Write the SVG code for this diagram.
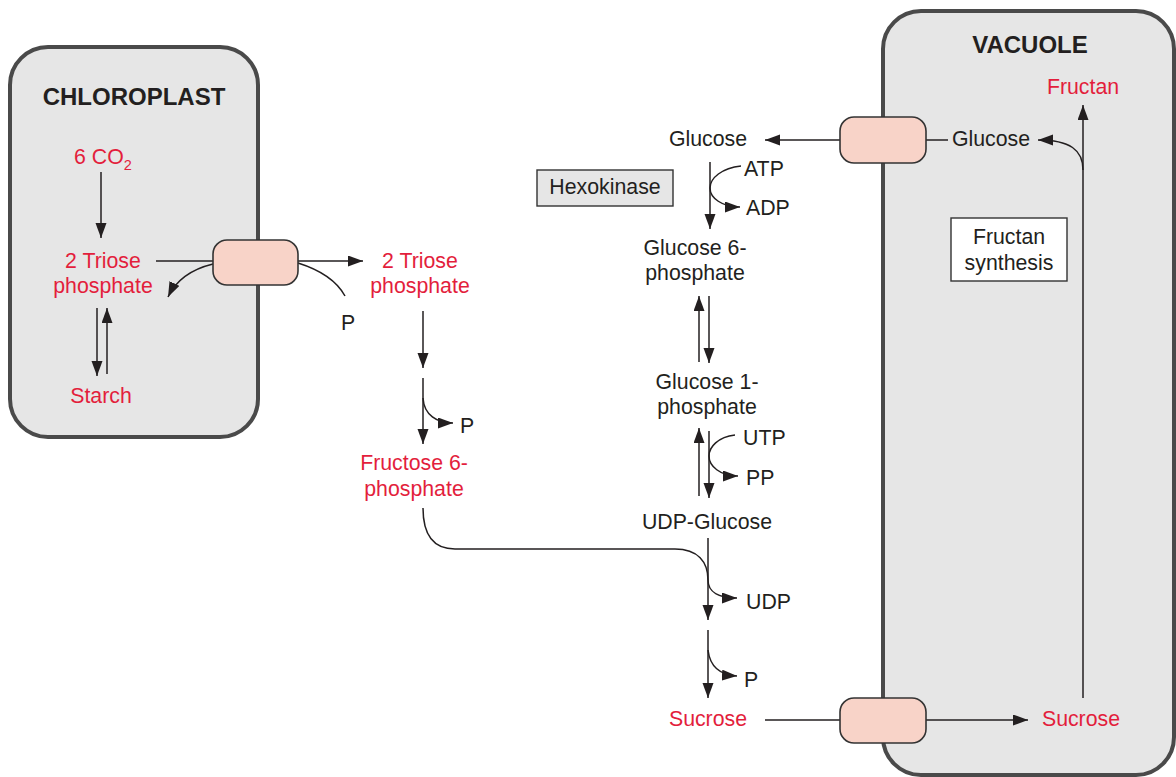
<svg xmlns="http://www.w3.org/2000/svg" width="1176" height="777" viewBox="0 0 1176 777">
  <style>
    .compartment { fill: #e6e6e6; stroke: #4a4a4a; stroke-width: 4; }
    .transporter { fill: #f8d3c8; stroke: #333; stroke-width: 1.6; }
    .enzyme { stroke: #333; stroke-width: 1.4; }
    .ln { fill: none; stroke: #231f20; stroke-width: 1.5; }
    .arr { fill: none; stroke: #231f20; stroke-width: 1.5; marker-end: url(#head); }
    text { font-family: "Liberation Sans", Arial, sans-serif; font-size: 21.3px; fill: #231f20; }
    .red { fill: #e31e3c; }
    .title { font-weight: bold; font-size: 24px; }
    .mid { text-anchor: middle; }
  </style>
  <defs>
    <marker id="head" markerUnits="userSpaceOnUse" markerWidth="16" markerHeight="12" refX="15" refY="5.5" orient="auto">
      <path d="M0,0 L15,5.5 L0,11 z" fill="#231f20"/>
    </marker>
  </defs>

  <!-- cell compartments -->
  <g id="chloroplast">
    <rect class="compartment" x="10" y="47" width="248" height="390" rx="38"/>
    <text class="title mid" x="134" y="105">CHLOROPLAST</text>
  </g>
  <g id="vacuole">
    <rect class="compartment" x="883" y="11" width="291" height="764" rx="38"/>
    <text class="title mid" x="1030" y="53">VACUOLE</text>
  </g>

  <!-- reactions and transport paths -->
  <g id="connectors">
    <!-- chloroplast -->
    <path class="arr" d="M101,172 L101,238"/>
    <path class="arr" d="M97,308 L97,376"/>
    <path class="arr" d="M107,374 L107,308"/>
    <path class="ln" d="M156,261 L213,261"/>
    <path class="arr" d="M213,264 Q180,272 168,297"/>
    <path class="arr" d="M298,261 L363,261"/>
    <path class="ln" d="M298,263 Q333,274 345,296"/>
    <!-- cytosol: triose phosphate to fructose 6-phosphate -->
    <path class="arr" d="M423,311 L423,368"/>
    <path class="arr" d="M423,378 L423,444"/>
    <path class="arr" d="M423,398 C424,415 437,423 453,423"/>
    <!-- glucose branch -->
    <path class="arr" d="M840,140 L765,140"/>
    <path class="arr" d="M710,162 L710,229"/>
    <path class="arr" d="M741,166 C722,168 710,178 710,188 C710,198 722,207 740,207"/>
    <path class="arr" d="M699,362 L699,296"/>
    <path class="arr" d="M709,296 L709,363"/>
    <path class="arr" d="M699,496 L699,428"/>
    <path class="arr" d="M709,431 L709,498"/>
    <path class="arr" d="M735,435 C718,437 709,447 709,456 C709,466 720,476 738,476"/>
    <!-- sucrose synthesis -->
    <path class="arr" d="M708,538 L708,620"/>
    <path class="arr" d="M423,508 C423,535 433,549 455,549 L675,549 C698,549 708,562 708,580 C708,592 719,598 737,598"/>
    <path class="arr" d="M708,630 L708,698"/>
    <path class="arr" d="M708,650 C710,667 720,675 737,676"/>
    <path class="ln" d="M765,720 L840,720"/>
    <path class="arr" d="M926,720 L1028,720"/>
    <!-- vacuole -->
    <path class="arr" d="M1083,698 L1083,105"/>
    <path class="arr" d="M1083,170 C1083,150 1070,140 1038,140"/>
    <path class="ln" d="M926,140 L948,140"/>
  </g>

  <!-- membrane transporters -->
  <g id="triose-transporter">
    <rect class="transporter" x="213" y="240" width="85" height="45" rx="14"/>
  </g>
  <g id="glucose-transporter">
    <rect class="transporter" x="840" y="117" width="86" height="46" rx="14"/>
  </g>
  <g id="sucrose-transporter">
    <rect class="transporter" x="840" y="698" width="86" height="45" rx="14"/>
  </g>

  <!-- metabolites -->
  <g id="co2"><text class="red" x="74" y="164">6 CO<tspan font-size="14.5" dy="6">2</tspan></text></g>
  <g id="triose-chloroplast"><text class="red mid" x="103" y="268">2 Triose</text><text class="red mid" x="103" y="293">phosphate</text></g>
  <g id="starch"><text class="red mid" x="101" y="403">Starch</text></g>
  <g id="triose-cytosol"><text class="red mid" x="420" y="268">2 Triose</text><text class="red mid" x="420" y="293">phosphate</text></g>
  <g id="pi-export"><text x="341" y="330">P</text></g>
  <g id="pi-fructose"><text x="460" y="433">P</text></g>
  <g id="fructose-6p"><text class="red mid" x="414" y="470">Fructose 6-</text><text class="red mid" x="414" y="496">phosphate</text></g>
  <g id="glucose-cytosol"><text class="mid" x="708" y="146">Glucose</text></g>
  <g id="atp"><text x="744" y="176">ATP</text></g>
  <g id="adp"><text x="746" y="215">ADP</text></g>
  <g id="hexokinase">
    <rect class="enzyme" x="537" y="170" width="136" height="36" fill="#e6e6e6"/>
    <text class="mid" x="605" y="194">Hexokinase</text>
  </g>
  <g id="glucose-6p"><text class="mid" x="695" y="255">Glucose 6-</text><text class="mid" x="695" y="280">phosphate</text></g>
  <g id="glucose-1p"><text class="mid" x="707" y="389">Glucose 1-</text><text class="mid" x="707" y="414">phosphate</text></g>
  <g id="utp"><text x="743" y="445">UTP</text></g>
  <g id="ppi"><text x="746" y="485">PP</text></g>
  <g id="udp-glucose"><text class="mid" x="707" y="529">UDP-Glucose</text></g>
  <g id="udp"><text x="746" y="609">UDP</text></g>
  <g id="pi-sucrose"><text x="744" y="687">P</text></g>
  <g id="sucrose-cytosol"><text class="red mid" x="708" y="726">Sucrose</text></g>
  <g id="sucrose-vacuole"><text class="red mid" x="1081" y="726">Sucrose</text></g>
  <g id="fructan"><text class="red mid" x="1083" y="94">Fructan</text></g>
  <g id="glucose-vacuole"><text class="mid" x="991" y="146">Glucose</text></g>
  <g id="fructan-synthesis">
    <rect class="enzyme" x="951" y="218" width="116" height="63" fill="#ffffff"/>
    <text class="mid" x="1009" y="244">Fructan</text>
    <text class="mid" x="1009" y="270">synthesis</text>
  </g>
</svg>
